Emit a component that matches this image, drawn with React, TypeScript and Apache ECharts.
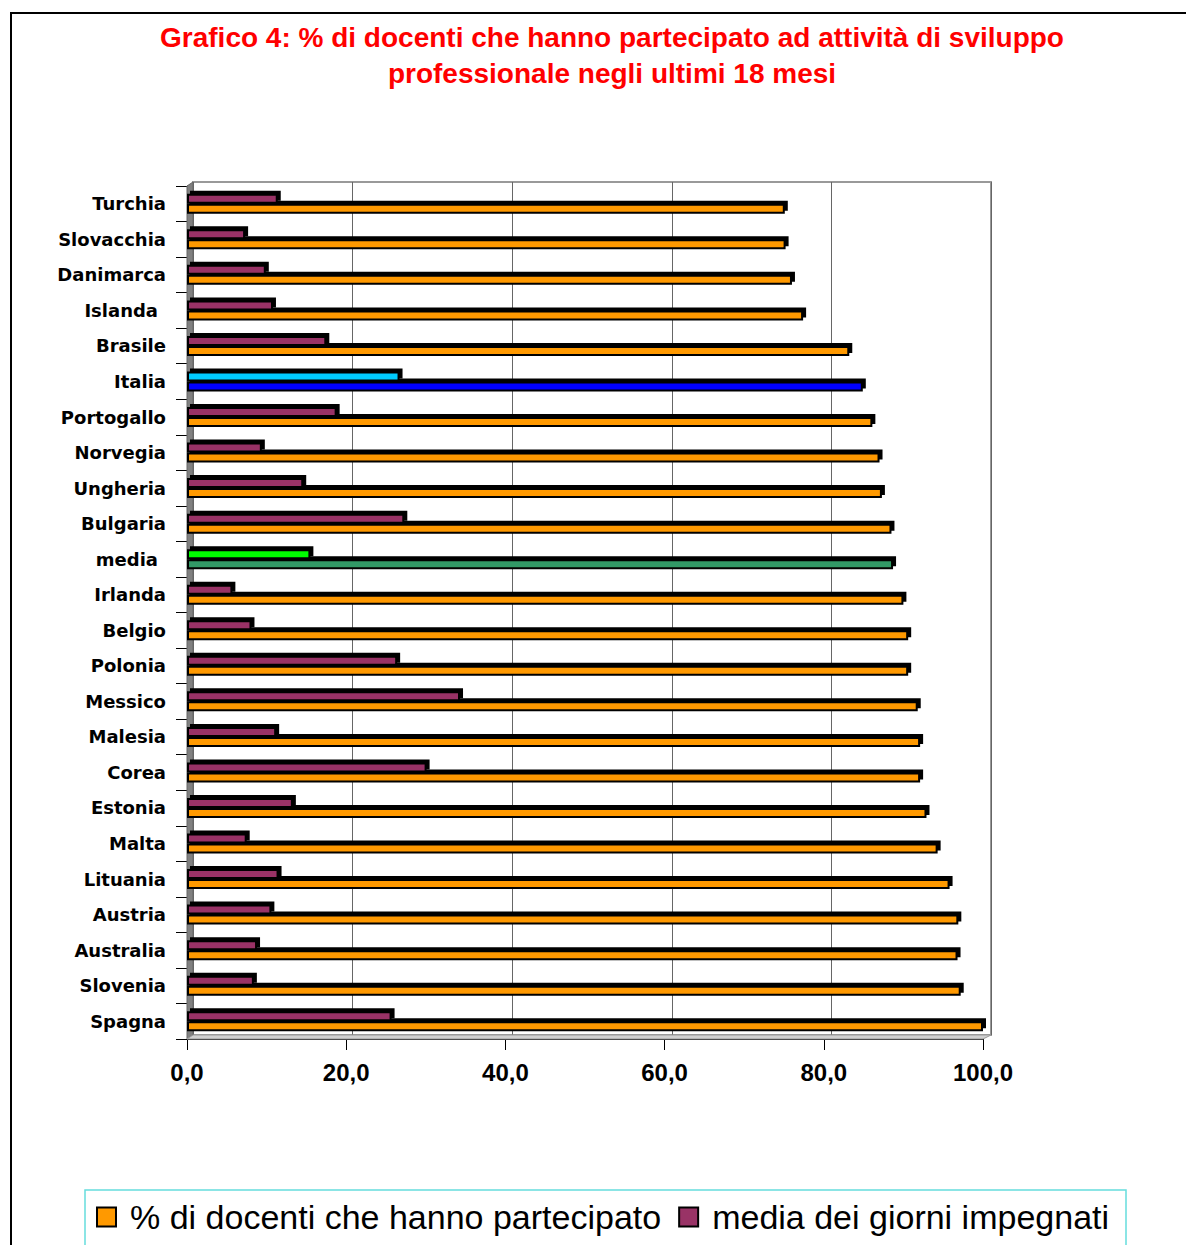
import React, { useEffect, useRef } from "react";
import * as echarts from "echarts";

const categories = [
  "Turchia", "Slovacchia", "Danimarca", "Islanda", "Brasile", "Italia",
  "Portogallo", "Norvegia", "Ungheria", "Bulgaria", "media", "Irlanda",
  "Belgio", "Polonia", "Messico", "Malesia", "Corea", "Estonia", "Malta",
  "Lituania", "Austria", "Australia", "Slovenia", "Spagna",
];
const pctDocenti = [
  75.1, 75.2, 76.0, 77.4, 83.2, 84.9, 86.1, 87.0, 87.3, 88.5, 88.7, 90.0,
  90.6, 90.6, 91.8, 92.1, 92.1, 92.9, 94.3, 95.8, 96.9, 96.8, 97.2, 100.0,
];
const mediaGiorni = [
  11.4, 7.3, 9.9, 10.8, 17.5, 26.7, 18.8, 9.4, 14.6, 27.3, 15.5, 5.7,
  8.1, 26.4, 34.3, 11.2, 30.1, 13.3, 7.5, 11.5, 10.6, 8.8, 8.4, 25.7,
];
const xTicks = [0, 20, 40, 60, 80, 100];

const nameOrange = "% di docenti che hanno partecipato";
const namePurple = "media dei giorni impegnati";
const titleText =
  "Grafico 4: % di docenti che hanno partecipato ad attività di sviluppo\nprofessionale negli ultimi 18 mesi";

const FONT = "'Liberation Sans', Arial, Helvetica, sans-serif";
const LABEL_FONT = "'DejaVu Sans', 'Liberation Sans', sans-serif";

const specialOrange: Record<string, string> = { Italia: "#0000FF", media: "#339966" };
const specialPurple: Record<string, string> = { Italia: "#00CCFF", media: "#00FF00" };
const indentedLabels = ["Islanda", "media"];

export default function App() {
  const ref = useRef<HTMLDivElement>(null);
  useEffect(() => {
    if (!ref.current) return;
    const chart = echarts.init(ref.current, null, { renderer: "svg" });
    const barShadow = {
      shadowColor: "#000",
      shadowBlur: 0,
      shadowOffsetX: 3,
      shadowOffsetY: -3,
    };
    const catLabelStyle = {
      fontSize: 18,
      fontWeight: "bold",
      color: "#000",
      fontFamily: LABEL_FONT,
    };
    const option: any = {
      animation: false,
      backgroundColor: "#ffffff",
      textStyle: { fontFamily: FONT },
      title: {
        text: titleText,
        left: 607,
        top: 14,
        textAlign: "center",
        textStyle: {
          color: "#FF0000",
          fontSize: 28,
          fontWeight: "bold",
          fontFamily: FONT,
          lineHeight: 36,
        },
      },
      legend: {
        data: [nameOrange, namePurple],
        left: 91,
        top: 1195,
        itemWidth: 19,
        itemHeight: 19,
        itemGap: 17,
        icon: "rect",
        selectedMode: false,
        itemStyle: { borderColor: "#000", borderWidth: 2, shadowColor: "transparent", shadowOffsetX: 0, shadowOffsetY: 0 },
        textStyle: { fontSize: 34, color: "#000", fontFamily: FONT, padding: [0, 0, 0, 9] },
      },
      grid: [
        { left: 187, top: 186, width: 796, height: 853 },
        { left: 193, top: 182, width: 798, height: 853, show: true, borderColor: "#999", borderWidth: 2, z: 0 },
      ],
      xAxis: [
        {
          gridIndex: 0,
          type: "value",
          min: xTicks[0],
          max: xTicks[xTicks.length - 1],
          interval: 20,
          axisLine: { show: true, lineStyle: { color: "#000", width: 1 } },
          axisTick: { show: true, length: 11, lineStyle: { color: "#000" } },
          axisLabel: {
            formatter: (v: number) => v.toFixed(1).replace(".", ","),
            fontSize: 24,
            fontWeight: "bold",
            color: "#000",
            margin: 21,
            fontFamily: FONT,
          },
          splitLine: { show: false },
        },
        {
          gridIndex: 1,
          type: "value",
          min: 0,
          max: 100,
          interval: 20,
          axisLine: { show: false },
          axisTick: { show: false },
          axisLabel: { show: false },
          splitLine: { show: true, lineStyle: { color: "#666", width: 1 } },
        },
      ],
      yAxis: [
        {
          gridIndex: 0,
          type: "category",
          data: categories,
          inverse: true,
          axisLine: { show: true, lineStyle: { color: "#000" } },
          axisTick: { show: true, length: 11, lineStyle: { color: "#000" } },
          axisLabel: {
            ...catLabelStyle,
            margin: 21,
            formatter: (v: string) =>
              indentedLabels.indexOf(v) >= 0 ? `{ind|${v}}` : v,
            rich: {
              ind: { ...catLabelStyle, padding: [0, 8, 0, 0] },
            },
          },
        },
        { gridIndex: 1, type: "category", data: categories, inverse: true, show: false },
      ],
      graphic: [
        {
          type: "rect",
          shape: { x: 11, y: 13, width: 1300, height: 1400 },
          style: { fill: "none", stroke: "#000", lineWidth: 2 },
          z: 0,
        },
        {
          type: "polygon",
          shape: { points: [[187, 186], [193, 182], [193, 1035], [187, 1039]] },
          style: { fill: "#808080", stroke: "#666", lineWidth: 1 },
          z: 1,
        },
        {
          type: "polygon",
          shape: { points: [[187, 1039], [193, 1035], [991, 1035], [983, 1039]] },
          style: { fill: "#d0d0d0", stroke: "#999", lineWidth: 1 },
          z: 1,
        },
        {
          type: "rect",
          shape: { x: 85, y: 1190, width: 1041, height: 60 },
          style: { fill: "none", stroke: "#66DDDD", lineWidth: 1.5 },
          z: 0,
        },
      ],
      series: [
        {
          name: namePurple,
          type: "bar",
          xAxisIndex: 0,
          yAxisIndex: 0,
          barWidth: 10,
          barGap: "0%",
          z: 3,
          emphasis: { disabled: true },
          itemStyle: { color: "#993366", borderColor: "#000", borderWidth: 2, ...barShadow },
          data: mediaGiorni.map((v, i) => {
            const c = specialPurple[categories[i]];
            return c ? { value: v, itemStyle: { color: c } } : v;
          }),
        },
        {
          name: nameOrange,
          type: "bar",
          xAxisIndex: 0,
          yAxisIndex: 0,
          barWidth: 10,
          barGap: "0%",
          z: 2,
          emphasis: { disabled: true },
          itemStyle: { color: "#FF9900", borderColor: "#000", borderWidth: 2, ...barShadow },
          data: pctDocenti.map((v, i) => {
            const c = specialOrange[categories[i]];
            return c ? { value: v, itemStyle: { color: c } } : v;
          }),
        },
      ],
    };
    chart.setOption(option);
    return () => chart.dispose();
  }, []);
  return (
    <div
      ref={ref}
      style={{ position: "absolute", left: 0, top: 0, width: 1186, height: 1245 }}
    />
  );
}
